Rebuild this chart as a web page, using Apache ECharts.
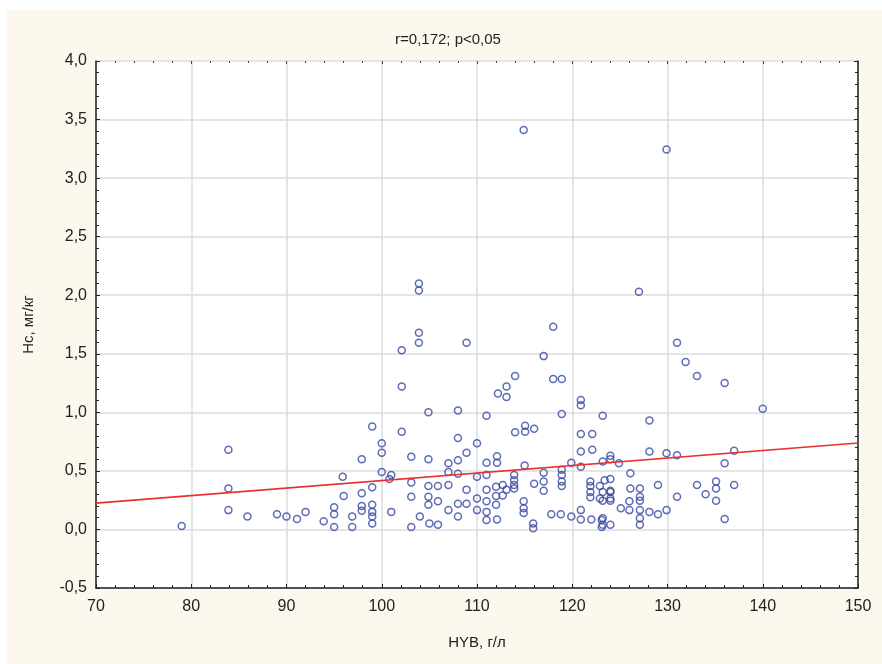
<!DOCTYPE html>
<html><head><meta charset="utf-8">
<script src="https://cdn.jsdelivr.net/npm/echarts@6/dist/echarts.min.js"></script>
<style>
html,body{margin:0;padding:0;background:#fff;}
#bg{position:absolute;left:7px;top:10px;width:875px;height:654px;background:#fcf8ee;}
#chart{position:absolute;left:0;top:0;width:882px;height:664px;}
</style></head>
<body><div id="bg"></div><div id="chart"></div>
<script>
const titleText = 'r=0,172; p<0,05';
const xName = 'HYB, г/л';
const yName = 'Hc, мг/кг';
const xTicks = [70, 80, 90, 100, 110, 120, 130, 140, 150];
const yTicks = [-0.5, 0, 0.5, 1, 1.5, 2, 2.5, 3, 3.5, 4];
const regressionLine = [[70, 0.225], [150, 0.738]];
const hyb = [
79.0,83.9,83.9,83.9,85.9,89.0,90.0,91.1,92.0,93.9,95.0,95.0,95.0,95.9,96.0,96.9,96.9,97.9,97.9,97.9,97.9,
99.0,99.0,99.0,99.0,99.0,99.0,
100.0,100.0,100.0,100.8,101.0,101.0,
102.1,102.1,102.1,103.1,103.1,103.1,103.1,
103.9,103.9,103.9,103.9,104.0,
104.9,104.9,104.9,104.9,104.9,105.0,
105.9,105.9,105.9,
107.0,107.0,107.0,107.0,
108.0,108.0,108.0,108.0,108.0,108.0,
108.9,108.9,108.9,108.9,
110.0,110.0,110.0,110.0,
111.0,111.0,111.0,111.0,111.0,111.0,111.0,
112.2,112.1,112.1,112.0,112.0,112.0,112.1,112.7,112.7,
113.1,113.1,113.1,
114.0,114.0,113.9,113.9,113.9,113.9,
114.9,115.05,115.05,115.0,114.9,114.9,114.9,
116.0,116.0,115.9,115.9,
117.0,117.0,117.0,117.0,
118.0,118.0,117.8,
118.9,118.9,118.9,118.9,118.9,118.9,118.8,
119.9,119.9,
120.9,120.9,120.9,120.9,120.9,120.9,120.9,
122.1,122.1,121.9,121.9,121.9,121.9,122.0,
123.2,123.2,122.9,123.4,122.9,123.2,123.2,123.1,123.1,123.2,123.2,
124.0,124.0,124.0,124.0,124.0,124.0,124.0,124.0,124.9,
125.1,126.1,126.1,126.0,126.0,
127.0,127.1,127.1,127.1,127.1,127.1,127.1,
128.1,128.1,128.1,
129.0,129.0,
129.9,129.9,129.9,
131.0,131.0,131.0,
131.9,133.1,133.1,134.0,135.1,135.1,135.1,136.0,136.0,136.0,137.0,137.0,140.0
];
const hc = [
0.03,0.68,0.35,0.165,0.11,0.13,0.11,0.09,0.15,0.07,0.19,0.13,0.02,0.45,0.285,0.11,0.02,0.60,0.31,0.20,0.16,
0.88,0.36,0.21,0.15,0.11,0.05,
0.735,0.655,0.49,0.43,0.465,0.15,
1.53,1.22,0.835,0.62,0.40,0.28,0.02,
2.10,2.04,1.68,1.595,0.11,
1.0,0.60,0.37,0.28,0.21,0.05,
0.37,0.24,0.04,
0.565,0.49,0.38,0.165,
1.015,0.78,0.59,0.475,0.22,0.11,
1.595,0.655,0.34,0.22,
0.735,0.45,0.265,0.165,
0.97,0.57,0.465,0.34,0.24,0.15,0.08,
1.16,0.625,0.57,0.365,0.285,0.21,0.085,0.38,0.29,
1.22,1.13,0.34,
1.31,0.83,0.465,0.42,0.38,0.35,
3.41,0.885,0.835,0.545,0.24,0.18,0.14,
0.86,0.39,0.05,0.01,
1.48,0.485,0.41,0.33,
1.73,1.285,0.13,
1.285,0.985,0.51,0.465,0.41,0.37,0.13,
0.57,0.11,
1.105,1.06,0.815,0.665,0.535,0.165,0.085,
0.815,0.68,0.41,0.37,0.32,0.275,0.085,
0.97,0.58,0.37,0.42,0.265,0.32,0.245,0.08,0.02,0.095,0.04,
0.63,0.60,0.43,0.33,0.265,0.32,0.245,0.04,0.565,
0.18,0.48,0.35,0.24,0.165,
2.03,0.35,0.28,0.245,0.165,0.095,0.04,
0.93,0.665,0.15,
0.38,0.13,
3.245,0.65,0.165,
1.595,0.633,0.28,
1.43,1.31,0.38,0.30,0.41,0.35,0.245,1.25,0.565,0.09,0.672,0.38,1.03
];
const points = hyb.map((v, i) => [v, hc[i]]);

const font = "'Liberation Sans Narrow','Liberation Sans',Arial,sans-serif";
const fmtY = v => v.toFixed(1).replace('.', ',');
const chart = echarts.init(document.getElementById('chart'), null, {renderer: 'canvas'});
const xMin = xTicks[0], xMax = xTicks[xTicks.length - 1];
const yMin = yTicks[0], yMax = yTicks[yTicks.length - 1];
const xInt = xTicks[1] - xTicks[0];
const yInt = yTicks[1] - yTicks[0];
chart.setOption({
  backgroundColor: 'transparent',
  animation: false,
  title: {text: titleText, left: 443, top: 27, textAlign: 'center',
    textStyle: {fontFamily: font, fontSize: 15, fontWeight: 'normal', color: '#222'}},
  grid: {left: 96, right: 24, top: 61, bottom: 76, show: true, backgroundColor: '#fff', borderWidth: 0},
  xAxis: [{
    type: 'value', min: xMin, max: xMax, interval: xInt, position: 'bottom',
    name: xName, nameLocation: 'middle', nameGap: 47,
    nameTextStyle: {fontFamily: font, fontSize: 15, color: '#222'},
    axisLine: {show: true, onZero: false, lineStyle: {color: '#222', width: 1.5}},
    axisTick: {show: true, inside: true, length: 4, lineStyle: {color: '#222'}},
    minorTick: {show: true, splitNumber: 5, length: 3, lineStyle: {color: '#222'}},
    axisLabel: {fontFamily: font, fontSize: 16, color: '#222', margin: 11},
    splitLine: {show: true, lineStyle: {color: '#dcdcdc', width: 1.5}}
  }, {
    type: 'value', min: xMin, max: xMax, interval: xInt, position: 'top',
    axisLine: {show: false, onZero: false},
    axisTick: {show: true, inside: true, length: 3, lineStyle: {color: '#444'}},
    minorTick: {show: true, splitNumber: 5, length: 2, lineStyle: {color: '#444'}},
    axisLabel: {show: false}, splitLine: {show: false}
  }],
  yAxis: [{
    type: 'value', min: yMin, max: yMax, interval: yInt, position: 'left',
    name: yName, nameLocation: 'middle', nameGap: 60, nameRotate: 90,
    nameTextStyle: {fontFamily: font, fontSize: 15, color: '#222'},
    axisLine: {show: true, onZero: false, lineStyle: {color: '#222', width: 1.5}},
    axisTick: {show: true, inside: true, length: 4, lineStyle: {color: '#222'}},
    minorTick: {show: true, splitNumber: 5, length: 3, lineStyle: {color: '#222'}},
    axisLabel: {fontFamily: font, fontSize: 16, color: '#222', margin: 9, formatter: fmtY},
    splitLine: {show: true, lineStyle: {color: '#dcdcdc', width: 1.5}}
  }, {
    type: 'value', min: yMin, max: yMax, interval: yInt, position: 'right',
    axisLine: {show: true, onZero: false, lineStyle: {color: '#222', width: 1.5}},
    axisTick: {show: true, inside: true, length: 4, lineStyle: {color: '#222'}},
    minorTick: {show: true, splitNumber: 5, length: 3, lineStyle: {color: '#222'}},
    axisLabel: {show: false}, splitLine: {show: false}
  }],
  series: [{
    type: 'scatter', data: points, symbol: 'circle', symbolSize: 7,
    itemStyle: {color: 'rgba(255,255,255,0)', borderColor: '#3447a4', borderWidth: 1.5}
  }, {
    type: 'line', data: regressionLine, symbol: 'none',
    lineStyle: {color: '#e8302c', width: 1.6}, z: 3
  }]
});
</script></body></html>
